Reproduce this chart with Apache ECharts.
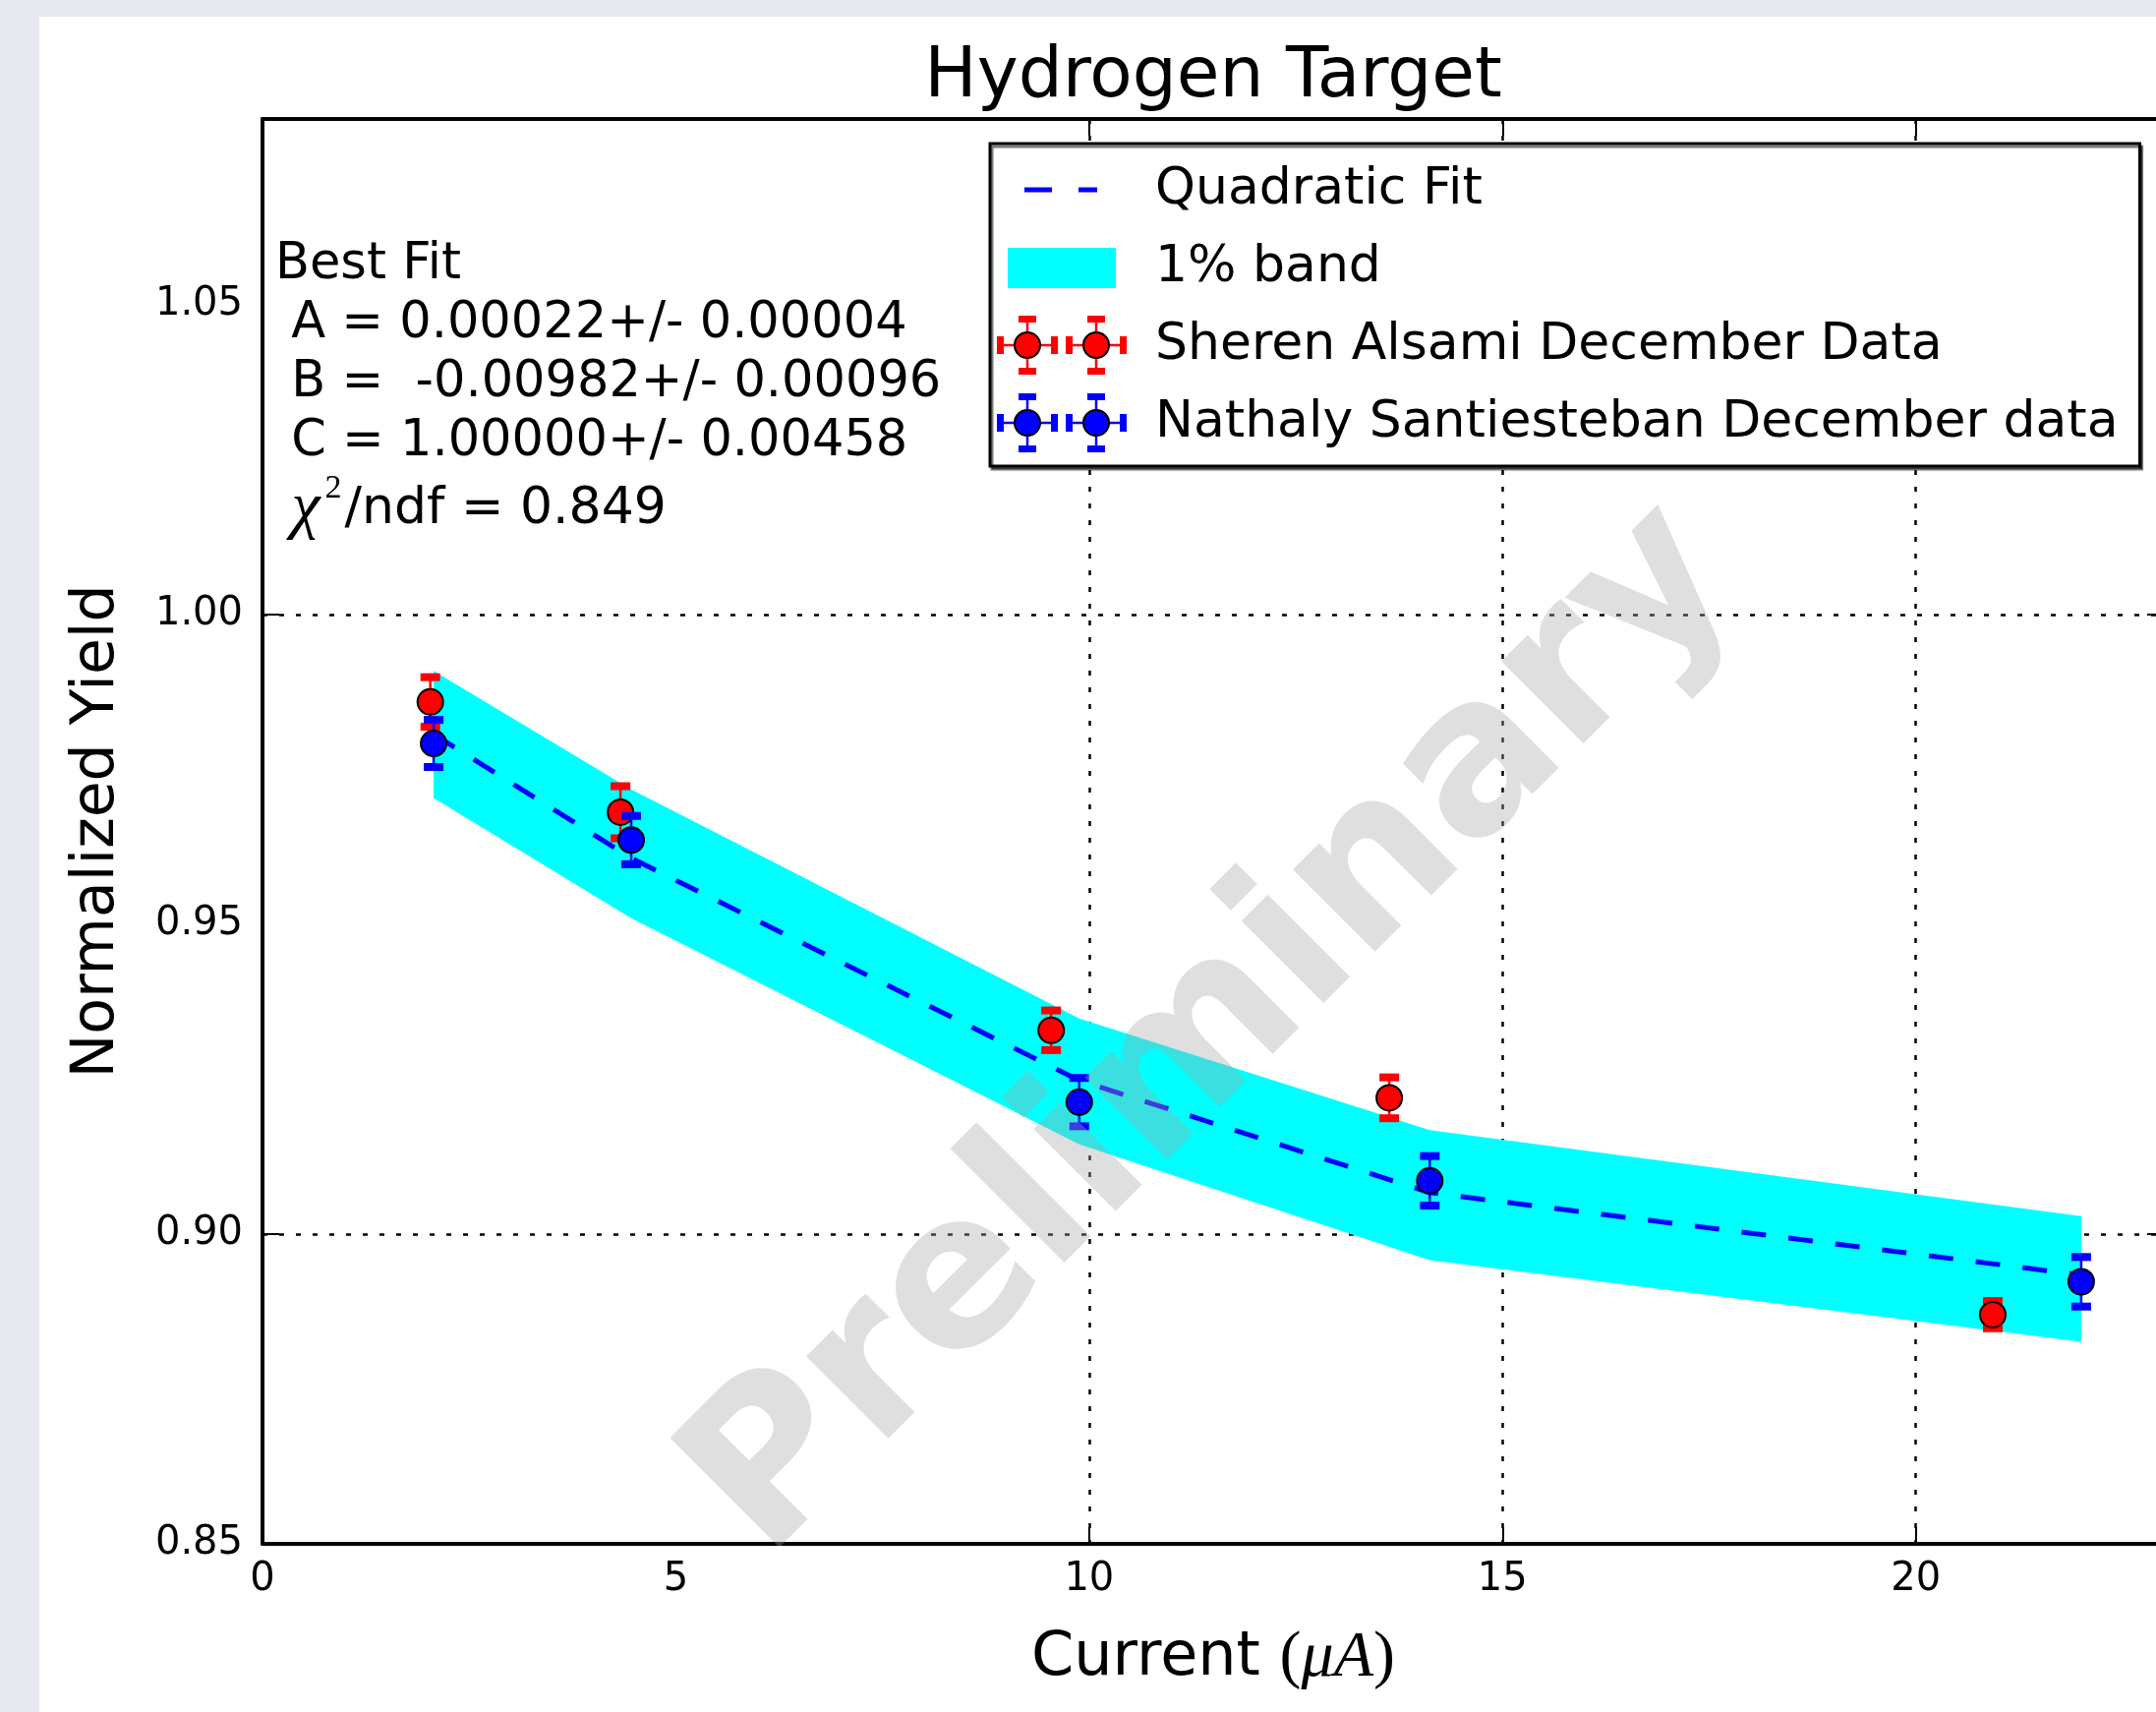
<!DOCTYPE html>
<html>
<head>
<meta charset="utf-8">
<script src="https://cdn.jsdelivr.net/npm/echarts@6/dist/echarts.min.js"></script>
<style>
  html, body { margin: 0; padding: 0; width: 2193px; height: 1741px; overflow: hidden; background: #e8e9ee; }
  #chart { position: absolute; left: 40px; top: 17px; width: 2153px; height: 1724px; background: #ffffff; }
</style>
</head>
<body>
<div id="chart"></div>
<script>
// Beam current (uA) and normalized yield, Sheren Alsami December runs
const redX   = [2.03, 4.33, 9.54, 13.63, 20.93];
const redY   = [0.9859, 0.9681, 0.9329, 0.9220, 0.8870];
const redErr = [0.0040, 0.0042, 0.0032, 0.0033, 0.0022];

// Nathaly Santiesteban December runs
const blueX   = [2.07, 4.46, 9.88, 14.12, 22.00];
const blueY   = [0.9792, 0.9636, 0.9213, 0.9086, 0.8923];
const blueErr = [0.0038, 0.0039, 0.0039, 0.0040, 0.0040];

// Quadratic fit evaluated at the Santiesteban currents, and its 1% band
const fitX   = [2.07, 4.46, 9.88, 14.12, 22.00];
const fitY   = [0.9807, 0.9607, 0.9248, 0.9067, 0.8934];
const bandHi = [0.9909, 0.9718, 0.9348, 0.9168, 0.9029];
const bandLo = [0.9704, 0.9510, 0.9145, 0.8958, 0.8826];

// Axis labels and the values that carry ticks / grid lines
const xLabels = [0, 5, 10, 15, 20];
const yLabels = [0.85, 0.90, 0.95, 1.00, 1.05];
const xGrid = [10, 15, 20];
const yGrid = [0.90, 1.00];

const seriesNames = {
  fit: 'Quadratic Fit',
  band: '1% band',
  red: 'Sheren Alsami December Data',
  blue: 'Nathaly Santiesteban December data'
};

const fitLines = [
  'Best Fit',
  ' A = 0.00022+/- 0.00004',
  ' B =  -0.00982+/- 0.00096',
  ' C = 1.00000+/- 0.00458'
];
const chiLine = { chi: '\u03c7', sup: '2', rest: '/ndf = 0.849' };

const FONT = 'DejaVu Sans';

// legend handles drawn as small inline SVG images
function svgIcon(body) {
  const s = '<svg xmlns="http://www.w3.org/2000/svg" width="156" height="60" viewBox="0 0 156 60">' + body + '</svg>';
  return 'image://data:image/svg+xml;charset=utf-8,' + encodeURIComponent(s);
}
function errIconBody(color) {
  let b = '';
  [31, 101].forEach(function (cx) {
    b += '<line x1="' + cx + '" y1="3" x2="' + cx + '" y2="57" stroke="' + color + '" stroke-width="2.5"/>';
    b += '<line x1="' + (cx - 28) + '" y1="30" x2="' + (cx + 28) + '" y2="30" stroke="' + color + '" stroke-width="2.5"/>';
    b += '<rect x="' + (cx - 9) + '" y="0" width="18" height="7" fill="' + color + '"/>';
    b += '<rect x="' + (cx - 9) + '" y="53" width="18" height="7" fill="' + color + '"/>';
    b += '<rect x="' + (cx - 31) + '" y="21" width="7" height="18" fill="' + color + '"/>';
    b += '<rect x="' + (cx + 24) + '" y="21" width="7" height="18" fill="' + color + '"/>';
    b += '<circle cx="' + cx + '" cy="30" r="13" fill="' + color + '" stroke="#000" stroke-width="2"/>';
  });
  return b;
}
const fitIcon = svgIcon('<line x1="28" y1="30" x2="56" y2="30" stroke="#0000ff" stroke-width="5"/>' +
                        '<line x1="83" y1="30" x2="102" y2="30" stroke="#0000ff" stroke-width="5"/>');
const bandIcon = svgIcon('<rect x="11" y="10" width="110" height="41" fill="#00ffff"/>');
const redIcon = svgIcon(errIconBody('#ff0000'));
const blueIcon = svgIcon(errIconBody('#0000ff'));

// vertical error bar with flat caps
function errorBar(color) {
  return function (params, api) {
    const x = api.value(0), y = api.value(1), e = api.value(2);
    const top = api.coord([x, y + e]);
    const bot = api.coord([x, y - e]);
    const capW = 20, capH = 8;
    return {
      type: 'group',
      children: [
        { type: 'line', shape: { x1: top[0], y1: top[1], x2: bot[0], y2: bot[1] },
          style: { stroke: color, lineWidth: 2.5 } },
        { type: 'rect', shape: { x: top[0] - capW / 2, y: top[1] - capH / 2, width: capW, height: capH },
          style: { fill: color } },
        { type: 'rect', shape: { x: bot[0] - capW / 2, y: bot[1] - capH / 2, width: capW, height: capH },
          style: { fill: color } }
      ]
    };
  };
}

const axisBase = {
  type: 'value',
  axisLine: { show: true, onZero: false, lineStyle: { color: '#000', width: 4 } },
  splitLine: { show: false }
};

const tickStyle = { show: true, inside: true, length: 17, lineStyle: { color: '#000', width: 2 } };
const gridStyle = { show: true, lineStyle: { color: '#000', width: 2.5, type: [5, 12] } };

const chart = echarts.init(document.getElementById('chart'), null, { renderer: 'canvas', devicePixelRatio: 1 });

chart.setOption({
  animation: false,
  backgroundColor: '#ffffff',
  title: {
    text: 'Hydrogen Target',
    left: 1189, top: 22, textAlign: 'center',
    textStyle: { fontFamily: FONT, fontSize: 71, fontWeight: 'normal', color: '#000' }
  },
  grid: { left: 227, top: 104, width: 1934, height: 1449, outerBoundsMode: 'none' },
  legend: {
    orient: 'vertical',
    left: 967, top: 129,
    padding: [17, 22, 14, 7],
    itemGap: 19,
    itemWidth: 156, itemHeight: 60,
    selectedMode: false,
    backgroundColor: '#ffffff',
    borderColor: '#000', borderWidth: 3,
    shadowColor: 'rgba(0,0,0,0.55)', shadowBlur: 1, shadowOffsetX: 2, shadowOffsetY: 3,
    textStyle: { fontFamily: FONT, fontSize: 52, color: '#000' },
    data: [
      { name: seriesNames.fit, icon: fitIcon },
      { name: seriesNames.band, icon: bandIcon },
      { name: seriesNames.red, icon: redIcon },
      { name: seriesNames.blue, icon: blueIcon }
    ]
  },
  xAxis: [
    Object.assign({}, axisBase, {
      position: 'bottom', min: 0, max: 23, interval: 5,
      axisTick: Object.assign({}, tickStyle, { customValues: xGrid }),
      splitLine: gridStyle,
      axisLabel: { customValues: xLabels, margin: 17, fontFamily: FONT, fontSize: 40, color: '#000' },
      name: 'Current {p|(}{i|\u03bcA}{p|)}',
      nameLocation: 'middle', nameGap: 84,
      nameTextStyle: {
        fontFamily: FONT, fontSize: 62, color: '#000',
        rich: {
          p: { fontFamily: 'Liberation Serif', fontSize: 66, color: '#000' },
          i: { fontFamily: 'Liberation Serif', fontStyle: 'italic', fontSize: 66, color: '#000' }
        }
      }
    }),
    Object.assign({}, axisBase, {
      position: 'top', min: 0, max: 23, interval: 5,
      axisTick: Object.assign({}, tickStyle, { customValues: xGrid }),
      axisLabel: { show: false }
    })
  ],
  yAxis: [
    Object.assign({}, axisBase, {
      position: 'left', min: 0.85, max: 1.08, interval: 0.05,
      axisTick: Object.assign({}, tickStyle, { customValues: yGrid }),
      splitLine: gridStyle,
      axisLabel: {
        customValues: yLabels, margin: 20, fontFamily: FONT, fontSize: 40, color: '#000',
        formatter: function (v) { return Number(v).toFixed(2); }
      },
      name: 'Normalized Yield',
      nameLocation: 'middle', nameGap: 138,
      nameTextStyle: { fontFamily: FONT, fontSize: 60, color: '#000' }
    }),
    Object.assign({}, axisBase, {
      position: 'right', min: 0.85, max: 1.08, interval: 0.05,
      axisTick: Object.assign({}, tickStyle, { customValues: yGrid }),
      axisLabel: { show: false }
    })
  ],
  graphic: [
    {
      type: 'text', x: 240, y: 223, z: 50,
      style: {
        text: fitLines.map(function (l) { return '{t|' + l + '}'; }).join('\n') +
              '\n{tl| }{chi|' + chiLine.chi + '}{sup|' + chiLine.sup + '}{tl|' + chiLine.rest + '}',
        align: 'left', verticalAlign: 'top',
        rich: {
          t:   { fontFamily: FONT, fontSize: 51, lineHeight: 60, fill: '#000' },
          tl:  { fontFamily: FONT, fontSize: 52, lineHeight: 76, fill: '#000' },
          chi: { fontFamily: 'Liberation Serif', fontStyle: 'italic', fontSize: 66, lineHeight: 76, fill: '#000', padding: [0, 5, 0, 0] },
          sup: { fontFamily: 'Liberation Serif', fontSize: 34, lineHeight: 40, verticalAlign: 'top', fill: '#000', padding: [0, 3, 0, 0] }
        }
      }
    },
    {
      type: 'text', x: 1196, y: 1034, rotation: Math.PI / 4, z: 100,
      style: {
        text: 'Preliminary',
        font: 'bold 216px "DejaVu Sans"',
        fill: 'rgba(166,166,166,0.36)',
        align: 'center', verticalAlign: 'middle'
      }
    }
  ],
  series: [
    {
      type: 'custom', name: seriesNames.band, z: 1,
      encode: { x: 0, y: [1, 2] },
      data: fitX.map(function (x, i) { return [x, bandLo[i], bandHi[i]]; }),
      renderItem: function (params, api) {
        if (params.dataIndex !== 0) return null;
        const upper = fitX.map(function (x, i) { return api.coord([x, bandHi[i]]); });
        const lower = fitX.map(function (x, i) { return api.coord([x, bandLo[i]]); }).reverse();
        return { type: 'polygon', shape: { points: upper.concat(lower) }, style: { fill: '#00ffff' } };
      }
    },
    {
      type: 'line', name: seriesNames.fit, z: 2,
      data: fitX.map(function (x, i) { return [x, fitY[i]]; }),
      symbol: 'none',
      lineStyle: { color: '#0000ff', width: 5, type: [25, 23] }
    },
    {
      type: 'custom', name: seriesNames.red, z: 3,
      encode: { x: 0, y: 1 },
      data: redX.map(function (x, i) { return [x, redY[i], redErr[i]]; }),
      renderItem: errorBar('#ff0000')
    },
    {
      type: 'scatter', name: seriesNames.red, z: 4,
      data: redX.map(function (x, i) { return [x, redY[i]]; }),
      symbol: 'circle', symbolSize: 26,
      itemStyle: { color: '#ff0000', borderColor: '#000', borderWidth: 2, opacity: 1 }
    },
    {
      type: 'custom', name: seriesNames.blue, z: 5,
      encode: { x: 0, y: 1 },
      data: blueX.map(function (x, i) { return [x, blueY[i], blueErr[i]]; }),
      renderItem: errorBar('#0000ff')
    },
    {
      type: 'scatter', name: seriesNames.blue, z: 6,
      data: blueX.map(function (x, i) { return [x, blueY[i]]; }),
      symbol: 'circle', symbolSize: 26,
      itemStyle: { color: '#0000ff', borderColor: '#000', borderWidth: 2, opacity: 1 }
    }
  ]
});
</script>
</body>
</html>
